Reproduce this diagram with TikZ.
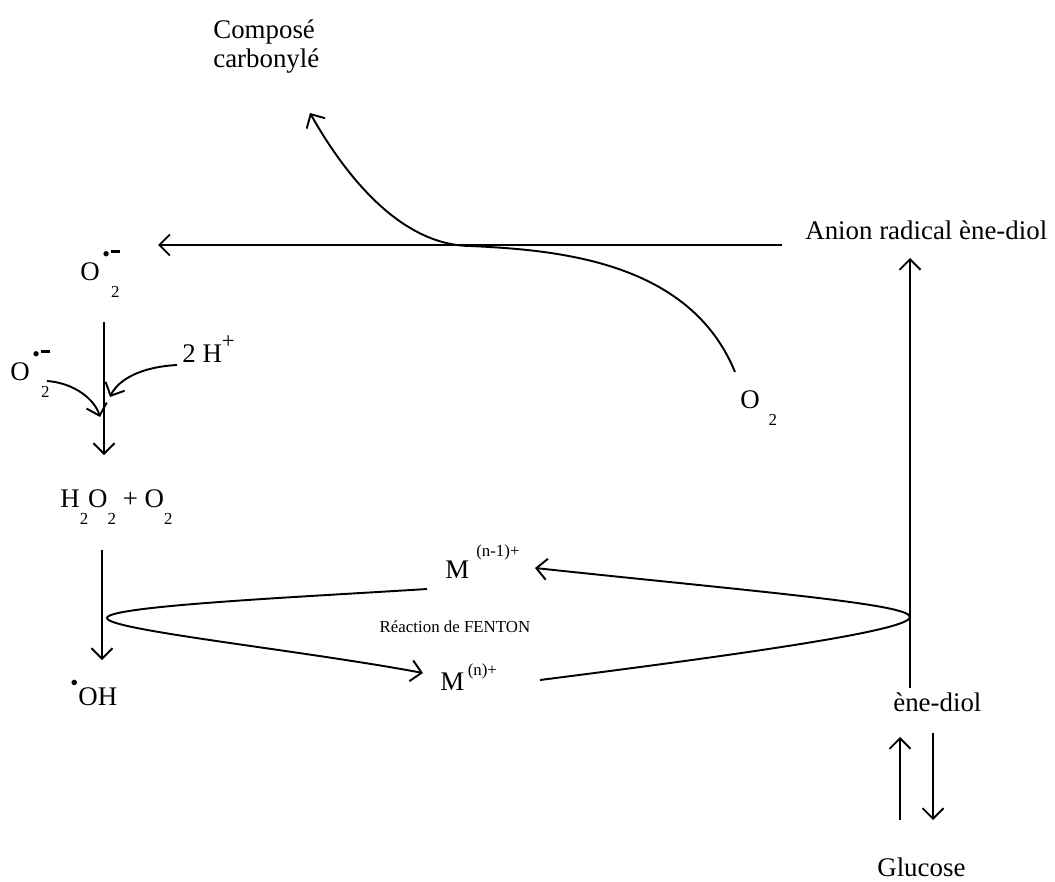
\documentclass[tikz,border=0pt]{standalone}
\usepackage{fontspec}
\setmainfont{Liberation Serif}
\usetikzlibrary{arrows.meta}
\newcommand{\lowsub}[1]{\raisebox{-10pt}{\fontsize{9.6}{10}\selectfont #1}}
\newcommand{\radsup}{\rlap{\kern1.5pt\raisebox{10.5pt}{\fontsize{12.5}{12}\selectfont\textbullet}\kern0.8pt\raisebox{15.6pt}{\rule{5pt}{1.3pt}}}}
\newcommand{\superox}{O\radsup\kern6.5pt\lowsub{2}}

\begin{document}
\begin{tikzpicture}[x=0.02cm, y=-0.02cm,
    lbl/.style={font=\fontsize{15.3}{17}\selectfont, inner sep=0pt, anchor=base west},
    smalllbl/.style={font=\fontsize{9.6}{11}\selectfont, inner sep=0pt},
    rxn/.style={line width=1.1pt, -{Straight Barb[length=6pt,width=12pt,line width=1.1pt]}}]
    \useasboundingbox (0,0) rectangle (1055,882);

    % Species
    \node[lbl, anchor=north west, align=left] (comp) at (213,19) {Composé\\carbonylé};
    \node[lbl] (anion) at (805,239) {Anion radical ène-diol};
    \node[lbl] (o2a) at (80,280) {\superox};
    \node[lbl] (o2b) at (10,380) {\superox};
    \node[lbl] (hplus) at (182,362) {2 H\raisebox{7.5pt}{\fontsize{13}{13}\selectfont +}};
    \node[lbl] (o2c) at (740,408) {O\kern5pt\lowsub{2}};
    \node[lbl] (h2o2) at (60,507) {H\lowsub{2}O\lowsub{2} + O\lowsub{2}};
    \node[lbl] (oh) at (70,705) {\raisebox{8pt}{\fontsize{13}{13}\selectfont\textbullet}OH};
    \node[lbl] (mlow) at (445,578) {M\kern4pt\raisebox{12pt}{\fontsize{9.6}{10}\selectfont (n-1)+}};
    \node[lbl] (mhigh) at (440,690) {M\kern2pt\raisebox{8pt}{\fontsize{9.6}{10}\selectfont (n)+}};
    \node[smalllbl] (fenton) at (455,627) {Réaction de FENTON};
    \node[lbl] (enediol) at (893,711) {ène-diol};
    \node[lbl] (gluc) at (877,876) {Glucose};

    % Free ends of the connectors
    \coordinate (hstart) at (782,245);
    \coordinate (htip) at (158,245);
    \coordinate (o2end) at (735,372);
    \coordinate (meet) at (470,246);
    \coordinate (comptip) at (310,113);
    \coordinate (v1top) at (104,322);
    \coordinate (v1tip) at (104,455);
    \coordinate (o2bend) at (47,381);
    \coordinate (o2btip) at (100,417);
    \coordinate (hend) at (177,365);
    \coordinate (htip2) at (110,397);
    \coordinate (v2top) at (102,550);
    \coordinate (v2tip) at (102,660);
    \coordinate (lupper) at (427,589);
    \coordinate (lapex) at (107,618);
    \coordinate (ltip) at (423,673);
    \coordinate (rlower) at (540,680);
    \coordinate (rapex) at (910,617);
    \coordinate (rtip) at (535,568);
    \coordinate (upbot) at (910,688);
    \coordinate (uptip) at (910,258);
    \coordinate (eqA) at (900,820);
    \coordinate (eqAtip) at (900,737);
    \coordinate (eqB) at (933,733);
    \coordinate (eqBtip) at (933,820);

    % Oxidation by O2
    \draw[rxn] (hstart) -- (htip);
    \draw[rxn] (o2end) .. controls (690,262) and (560,250) .. (meet)
        .. controls (400,245) and (345,175) .. (comptip);

    % Dismutation
    \draw[rxn] (v1top) -- (v1tip);
    \draw[rxn] (o2bend) .. controls (75,383) and (95,400) .. (o2btip);
    \draw[rxn] (hend) .. controls (140,367) and (118,380) .. (htip2);
    \draw[rxn] (v2top) -- (v2tip);

    % Fenton cycle
    \draw[rxn] (lupper) .. controls (300,597) and (107,606) .. (lapex)
        .. controls (107,630) and (300,650) .. (ltip);
    \draw[rxn] (rlower) .. controls (760,652) and (910,630) .. (rapex)
        .. controls (910,604) and (760,592) .. (rtip);

    % Enolisation
    \draw[rxn] (upbot) -- (uptip);
    \draw[rxn] (eqA) -- (eqAtip);
    \draw[rxn] (eqB) -- (eqBtip);
\end{tikzpicture}
\end{document}
